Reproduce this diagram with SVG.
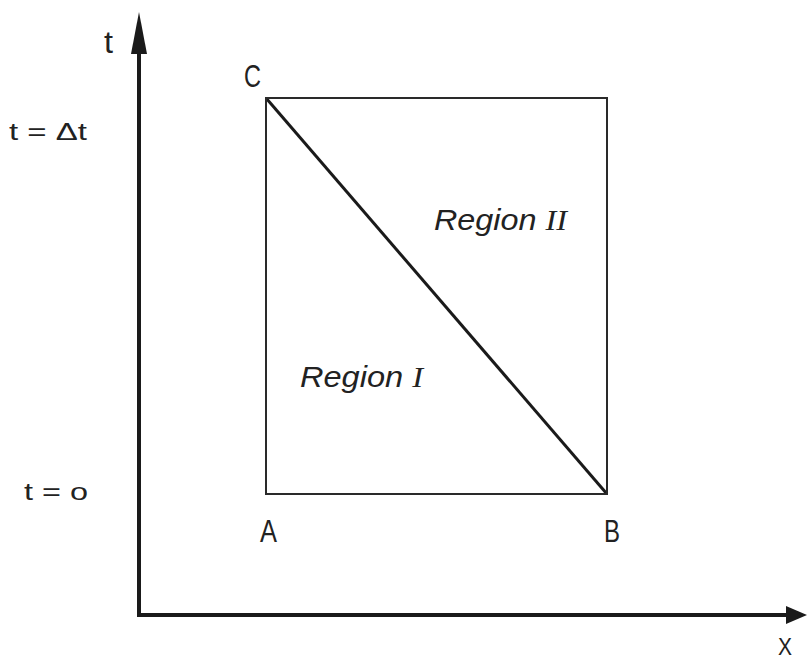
<svg xmlns="http://www.w3.org/2000/svg" width="807" height="660" viewBox="0 0 807 660">
<style>
.lbl{font-family:"Liberation Sans",Arial,sans-serif;font-size:24px;fill:#222}
.big{font-size:31px}
.reg{font-family:"Liberation Sans",Arial,sans-serif;font-size:30px;font-style:italic;fill:#222}
.rom{font-family:"Liberation Serif","Times New Roman",serif;font-style:italic}
.axis{stroke:#1a1a1a;stroke-width:4;fill:none}
.box{stroke:#2a2a2a;stroke-width:2;fill:none}
.diag{stroke:#1a1a1a;stroke-width:3;fill:none}
</style>
<rect width="807" height="660" fill="#fff"/>
<g id="connectors">
<line class="axis" x1="139" y1="617" x2="139" y2="45"/>
<polygon points="139,12 131,54 147,54" fill="#1a1a1a"/>
<line class="axis" x1="137" y1="615" x2="792" y2="615"/>
<polygon points="807,615 786,606 786,624" fill="#1a1a1a"/>
<line class="diag" x1="266" y1="98" x2="607" y2="494"/>
</g>
<g id="box">
<rect class="box" x="266" y="98" width="341" height="396"/>
</g>
<g id="labels">
<text class="lbl big" x="104" y="53" textLength="9" lengthAdjust="spacingAndGlyphs">t</text>
<text class="lbl" x="9" y="140" textLength="78" lengthAdjust="spacingAndGlyphs">t = Δt</text>
<text class="lbl" x="24" y="500" textLength="64" lengthAdjust="spacingAndGlyphs">t = o</text>
<text class="lbl big" x="244" y="87" textLength="17" lengthAdjust="spacingAndGlyphs">C</text>
<text class="lbl big" x="260" y="542" textLength="17" lengthAdjust="spacingAndGlyphs">A</text>
<text class="lbl big" x="604" y="542" textLength="16" lengthAdjust="spacingAndGlyphs">B</text>
<text class="lbl" x="778" y="655" textLength="14" lengthAdjust="spacingAndGlyphs">X</text>
<text class="reg" x="434" y="230" textLength="133" lengthAdjust="spacingAndGlyphs">Region <tspan class="rom">II</tspan></text>
<text class="reg" x="300" y="387" textLength="123" lengthAdjust="spacingAndGlyphs">Region <tspan class="rom">I</tspan></text>
</g>
</svg>
